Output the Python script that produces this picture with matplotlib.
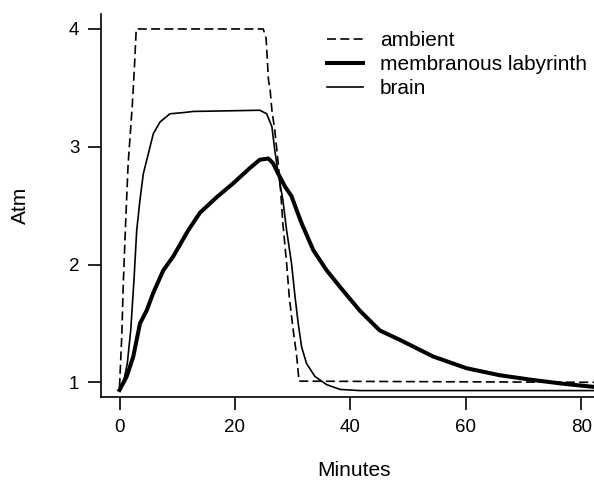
import matplotlib
matplotlib.use("Agg")
import matplotlib.pyplot as plt

plt.rcParams["font.family"] = ["Liberation Sans", "DejaVu Sans"]

# ambient pressure (dashed)
ambient_t = [0, 0.4, 0.66, 1.1, 1.5, 2.2, 2.56, 2.9, 24.9, 25.4, 25.8, 26.1,
             26.4, 26.9, 27.5, 27.9, 28.3, 28.95, 29.4, 30.1, 30.7, 31.1, 82.5]
ambient = [0.96, 1.4, 1.84, 2.4, 2.86, 3.34, 3.65, 4.0, 4.0, 3.92, 3.57, 3.48,
           3.31, 3.14, 2.86, 2.63, 2.35, 2.01, 1.73, 1.44, 1.22, 1.01, 1.0]

# membranous labyrinth (thick)
laby_t = [0, 1.25, 2.39, 3.55, 4.71, 5.85, 7.58, 9.32, 11.9, 13.94, 16.8, 19.7,
          22.6, 24.3, 25.8, 26.6, 27.5, 28.7, 29.8, 30.7, 31.55, 32.7, 33.6,
          35.9, 38.2, 39.9, 41.6, 45.1, 48.6, 54.3, 60.1, 65.9, 71.6, 77.4, 82.5]
laby = [0.935, 1.05, 1.22, 1.50, 1.61, 1.76, 1.95, 2.07, 2.29, 2.44, 2.57, 2.69,
        2.82, 2.89, 2.90, 2.86, 2.77, 2.66, 2.58, 2.46, 2.35, 2.22, 2.12,
        1.95, 1.81, 1.71, 1.61, 1.44, 1.36, 1.22, 1.12, 1.06, 1.02, 0.985, 0.96]

# brain (thin)
brain_t = [0.09, 0.66, 1.35, 1.94, 2.51, 2.98, 3.55, 4.12, 4.99, 5.85, 7.01, 8.74,
           11.05, 12.8, 24.3, 25.5, 26.4, 26.9, 27.5, 28.3, 28.95, 29.8, 30.4,
           30.96, 31.55, 32.4, 33.85, 35.9, 38.2, 41.6, 82.5]
brain = [0.935, 0.994, 1.16, 1.44, 1.87, 2.29, 2.55, 2.77, 2.94, 3.11, 3.21, 3.28,
         3.29, 3.30, 3.31, 3.28, 3.17, 2.97, 2.77, 2.55, 2.29, 2.01, 1.73,
         1.50, 1.30, 1.16, 1.05, 0.98, 0.94, 0.93, 0.93]

x_ticks = [0, 20, 40, 60, 80]
y_ticks = [1, 2, 3, 4]


def main() -> None:
    fig = plt.figure(figsize=(5.94, 4.8), dpi=100)
    ax = fig.add_axes([0.1695, 0.1723, 0.8305, 0.7985])

    ax.plot(ambient_t, ambient, color="black", lw=1.2, ls=(0, (5.4, 2.6)),
            label="ambient")
    ax.plot(laby_t, laby, color="black", lw=2.9, label="membranous labyrinth")
    ax.plot(brain_t, brain, color="black", lw=1.2, label="brain")

    ax.set_xlim(-3.26, 82.2)
    ax.set_ylim(0.873, 4.127)
    ax.set_xticks(x_ticks)
    ax.set_yticks(y_ticks)
    for side in ("top", "right"):
        ax.spines[side].set_visible(False)
    for side in ("left", "bottom"):
        ax.spines[side].set_linewidth(1.2)
    ax.tick_params(direction="out", length=9.4, width=1.2, pad=6,
                   labelsize=13.5)

    ax.set_xlabel("Minutes", fontsize=15, va="baseline")
    ax.xaxis.set_label_coords(0.5125, -0.205)
    ax.set_ylabel("Atm", fontsize=15)
    ax.yaxis.set_label_coords(-0.143, 0.5)

    ax.legend(loc="upper left", bbox_to_anchor=(326.7 / 594, 1 - 31 / 480),
              bbox_transform=fig.transFigure, frameon=False, fontsize=15,
              handlelength=1.76, handletextpad=0.8, labelspacing=0.25,
              borderpad=0, borderaxespad=0)

    fig.savefig("out.png", dpi=100)
    plt.close(fig)


if __name__ == "__main__":
    main()
